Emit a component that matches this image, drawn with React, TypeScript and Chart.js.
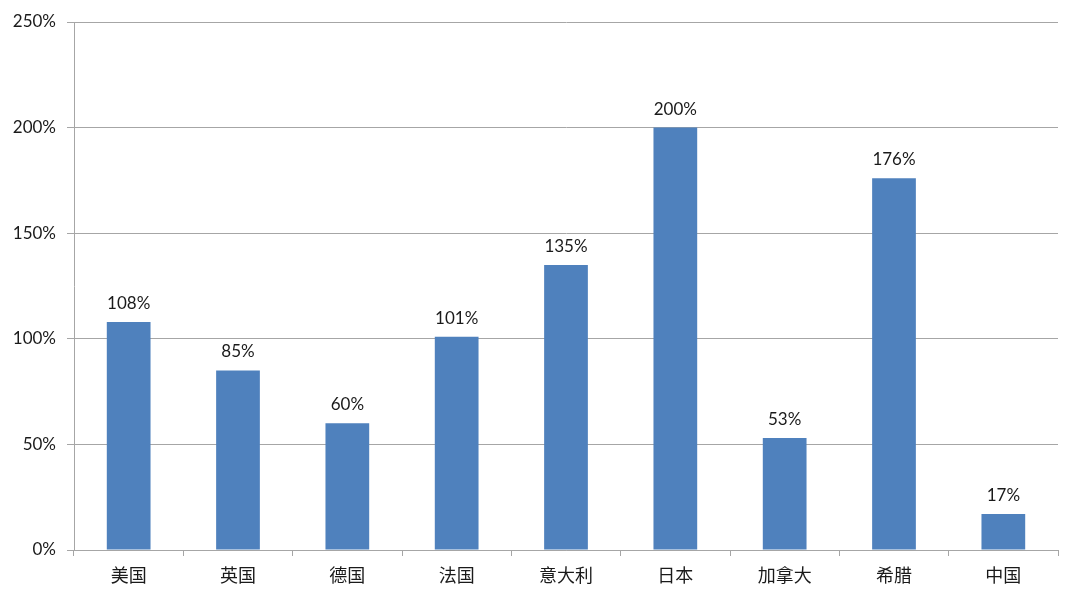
import React, { useEffect, useRef } from "react";
import { Chart, registerables } from "chart.js";

Chart.register(...registerables);

const categories = ["美国", "英国", "德国", "法国", "意大利", "日本", "加拿大", "希腊", "中国"];
const values = [108, 85, 60, 101, 135, 200, 53, 176, 17];
const yTicks = [0, 50, 100, 150, 200, 250];

const FONT = "Lato, 'Noto Sans CJK SC', sans-serif";

const dataLabels = {
  id: "dataLabels",
  afterDatasetsDraw(chart: any) {
    const { ctx } = chart;
    const meta = chart.getDatasetMeta(0);
    ctx.save();
    ctx.font = `17px ${FONT}`;
    ctx.fillStyle = "#1a1a1a";
    ctx.textAlign = "center";
    ctx.textBaseline = "bottom";
    meta.data.forEach((bar: any, i: number) => {
      ctx.fillText(values[i] + "%", bar.x, bar.y - 10);
    });
    ctx.restore();
  },
};

export default function App() {
  const ref = useRef<HTMLCanvasElement | null>(null);
  useEffect(() => {
    document.body.style.margin = "0";
    const chart = new Chart(ref.current!, {
      type: "bar",
      data: {
        labels: categories,
        datasets: [
          {
            data: values,
            backgroundColor: "#4F81BD",
            barPercentage: 0.4,
            categoryPercentage: 1,
          },
        ],
      },
      options: {
        animation: false,
        responsive: false,
        devicePixelRatio: 1,
        layout: { padding: { top: 22, right: 22, left: 0, bottom: 0 } },
        plugins: { legend: { display: false }, tooltip: { enabled: false } },
        scales: {
          x: {
            grid: {
              offset: true,
              drawOnChartArea: false,
              drawTicks: true,
              tickLength: 6,
              color: "#a6a6a6",
            },
            border: { color: "#a6a6a6", width: 1 },
            ticks: { font: { family: FONT, size: 18 }, color: "#1a1a1a", padding: 9 },
            afterFit(scale: any) {
              scale.height = 51;
            },
          },
          y: {
            min: 0,
            max: 250,
            afterBuildTicks(scale: any) {
              scale.ticks = yTicks.map((v) => ({ value: v }));
            },
            grid: { color: "#a6a6a6", tickLength: 7 },
            border: { color: "#a6a6a6", width: 1 },
            ticks: {
              font: { family: FONT, size: 17 },
              color: "#1a1a1a",
              padding: 11,
              callback: (v: any) => v + "%",
            },
            afterFit(scale: any) {
              scale.width = 74;
            },
          },
        },
      },
      plugins: [dataLabels],
    });
    return () => chart.destroy();
  }, []);
  return (
    <div style={{ position: "absolute", left: 0, top: 0, width: 1080, height: 601 }}>
      <canvas ref={ref} width={1080} height={601} />
    </div>
  );
}
